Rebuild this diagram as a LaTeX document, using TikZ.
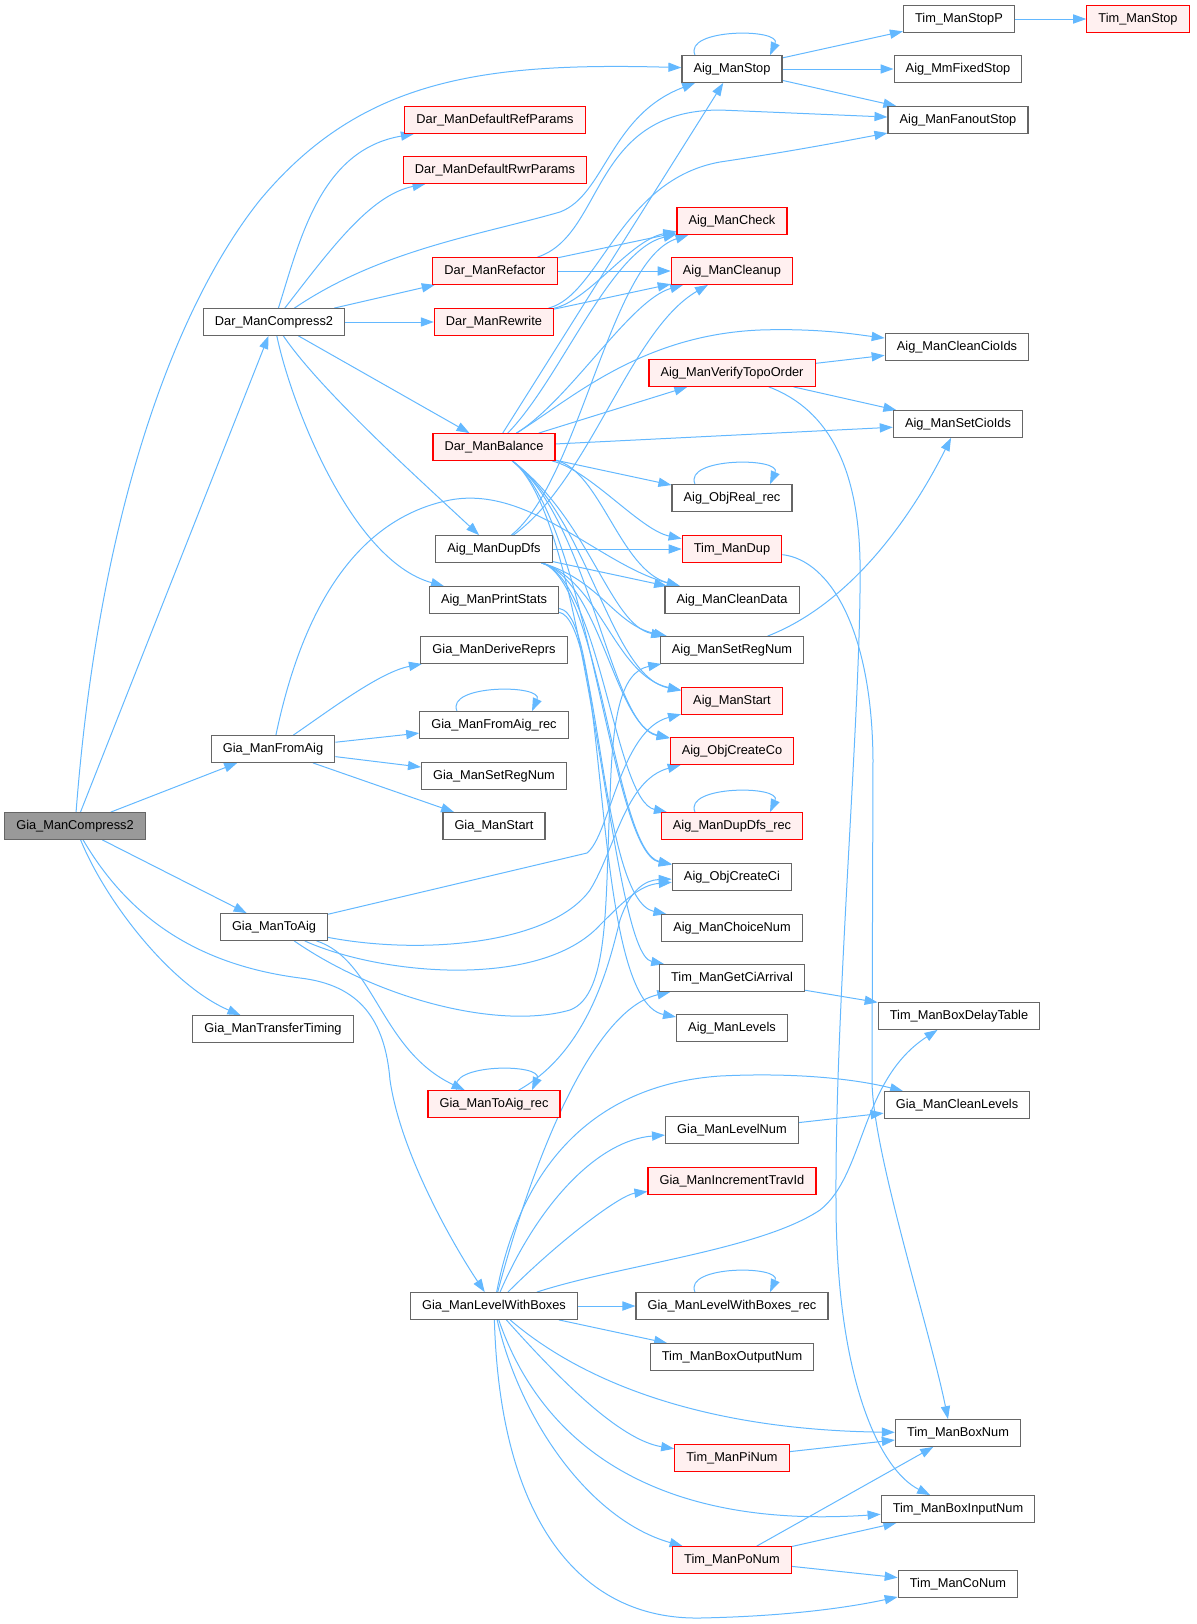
\documentclass[tikz,border=0pt]{standalone}
\usepackage{fontspec}
\setmainfont{Liberation Sans}
\usetikzlibrary{arrows.meta}
\pgfdeclarelayer{edges}
\pgfsetlayers{edges,main}
\definecolor{callblue}{HTML}{63B8FF}
\definecolor{boxgray}{HTML}{666666}
\definecolor{rootgray}{HTML}{999999}
\definecolor{redfill}{HTML}{FFF0F0}
\tikzset{
  fn/.style={draw=boxgray, fill=white, line width=0.6pt, inner xsep=5.8pt, inner ysep=1pt,
    minimum height=13.3pt, font=\fontsize{6.4}{7.6}\selectfont},
  fnred/.style={fn, draw=red, fill=redfill},
  fnroot/.style={fn, fill=rootgray},
  call/.style={draw=callblue, line width=0.5pt, -{Triangle[length=6.5pt,width=4.6pt]}},
  selfcall/.style={call, to path={([xshift=-18.5pt]\tikztostart.north) .. controls +(-12,-27) and +(12,-27) .. ([xshift=19pt]\tikztostart.north)}}
}
\begin{document}
\begin{tikzpicture}[x=0.5pt,y=-0.5pt]
\useasboundingbox (0,0) rectangle (1196,1624);
\node[fnroot] (gcomp) at (75,826) {Gia\_ManCompress2};
\node[fn] (dcomp) at (274,322) {Dar\_ManCompress2};
\node[fn] (gfrom) at (273,749) {Gia\_ManFromAig};
\node[fn] (gtoaig) at (274,927) {Gia\_ManToAig};
\node[fn] (gtransfer) at (273,1029) {Gia\_ManTransferTiming};
\node[fn] (lwb) at (494,1306) {Gia\_ManLevelWithBoxes};
\node[fnred] (refparams) at (495,120) {Dar\_ManDefaultRefParams};
\node[fnred] (rwrparams) at (495,170) {Dar\_ManDefaultRwrParams};
\node[fnred] (refac) at (495,271) {Dar\_ManRefactor};
\node[fnred] (rewr) at (494,322) {Dar\_ManRewrite};
\node[fnred] (bal) at (494,447) {Dar\_ManBalance};
\node[fn] (dupdfs) at (494,549) {Aig\_ManDupDfs};
\node[fn] (pstats) at (494,600) {Aig\_ManPrintStats};
\node[fn] (derive) at (494,650) {Gia\_ManDeriveReprs};
\node[fn] (gfromrec) at (494,725) {Gia\_ManFromAig\_rec};
\node[fn] (gsetreg) at (494,776) {Gia\_ManSetRegNum};
\node[fn] (gstart) at (494,826) {Gia\_ManStart};
\node[fnred] (gtoaigrec) at (494,1104) {Gia\_ManToAig\_rec};
\node[fn] (astop) at (732,69) {Aig\_ManStop};
\node[fnred] (check) at (732,221) {Aig\_ManCheck};
\node[fnred] (cleanup) at (732,271) {Aig\_ManCleanup};
\node[fnred] (verify) at (732,373) {Aig\_ManVerifyTopoOrder};
\node[fn] (objreal) at (732,498) {Aig\_ObjReal\_rec};
\node[fnred] (timdup) at (732,549) {Tim\_ManDup};
\node[fn] (cleandata) at (732,600) {Aig\_ManCleanData};
\node[fn] (setreg) at (732,650) {Aig\_ManSetRegNum};
\node[fnred] (astart) at (732,701) {Aig\_ManStart};
\node[fnred] (createco) at (732,751) {Aig\_ObjCreateCo};
\node[fnred] (duprec) at (732,826) {Aig\_ManDupDfs\_rec};
\node[fn] (createci) at (732,877) {Aig\_ObjCreateCi};
\node[fn] (choice) at (732,928) {Aig\_ManChoiceNum};
\node[fn] (getci) at (732,978) {Tim\_ManGetCiArrival};
\node[fn] (levels) at (732,1028) {Aig\_ManLevels};
\node[fn] (levnum) at (732,1130) {Gia\_ManLevelNum};
\node[fnred] (incrtrav) at (732,1181) {Gia\_ManIncrementTravId};
\node[fn] (lwbrec) at (732,1306) {Gia\_ManLevelWithBoxes\_rec};
\node[fn] (boxout) at (732,1357) {Tim\_ManBoxOutputNum};
\node[fnred] (pinum) at (732,1458) {Tim\_ManPiNum};
\node[fnred] (ponum) at (732,1560) {Tim\_ManPoNum};
\node[fn] (stopp) at (959,19) {Tim\_ManStopP};
\node[fn] (mmfixed) at (958,69) {Aig\_MmFixedStop};
\node[fn] (fanout) at (958,120) {Aig\_ManFanoutStop};
\node[fn] (cleancio) at (957,347) {Aig\_ManCleanCioIds};
\node[fn] (setcio) at (958,424) {Aig\_ManSetCioIds};
\node[fn] (boxdelay) at (959,1016) {Tim\_ManBoxDelayTable};
\node[fn] (cleanlev) at (957,1105) {Gia\_ManCleanLevels};
\node[fn] (boxnum) at (958,1433) {Tim\_ManBoxNum};
\node[fn] (boxinput) at (958,1509) {Tim\_ManBoxInputNum};
\node[fn] (conum) at (958,1584) {Tim\_ManCoNum};
\node[fnred] (timstop) at (1138,19) {Tim\_ManStop};
\begin{pgfonlayer}{edges}
\draw[call] (gcomp) .. controls (100,500) and (180,300) .. (260,200) .. controls (360,80) and (480,62) .. (astop);
\draw[call] (gcomp) -- (dcomp);
\draw[call] (gcomp) -- (gfrom);
\draw[call] (gcomp) -- (gtoaig);
\draw[call] (gcomp) .. controls (105,900) and (170,985) .. (gtransfer);
\draw[call] (gcomp) .. controls (130,920) and (200,965) .. (300,978) .. controls (360,985) and (385,1020) .. (390,1080) .. controls (400,1150) and (450,1240) .. (lwb);
\draw[call] (dcomp) .. controls (300,240) and (320,150) .. (refparams);
\draw[call] (dcomp) .. controls (330,250) and (370,195) .. (rwrparams);
\draw[call] (dcomp) .. controls (380,250) and (480,235) .. (560,212) .. controls (605,195) and (610,115) .. (astop);
\draw[call] (dcomp) -- (refac);
\draw[call] (dcomp) -- (rewr);
\draw[call] (dcomp) -- (bal);
\draw[call] (dcomp) .. controls (320,390) and (420,480) .. (dupdfs);
\draw[call] (dcomp) .. controls (290,400) and (350,560) .. (pstats);
\draw[selfcall] (astop) to (astop);
\draw[call] (astop) -- (stopp);
\draw[call] (astop) -- (mmfixed);
\draw[call] (astop) -- (fanout);
\draw[call] (stopp) -- (timstop);
\draw[call] (refac) .. controls (605,235) and (590,110) .. (720,110) -- (fanout);
\draw[call] (refac) -- (check);
\draw[call] (refac) -- (cleanup);
\draw[call] (rewr) .. controls (600,295) and (620,180) .. (720,162) .. controls (800,150) and (850,140) .. (fanout);
\draw[call] (rewr) .. controls (590,300) and (630,240) .. (check);
\draw[call] (rewr) -- (cleanup);
\draw[call] (bal) -- (astop);
\draw[call] (bal) .. controls (560,380) and (610,250) .. (check);
\draw[call] (bal) .. controls (570,400) and (630,300) .. (cleanup);
\draw[call] (bal) .. controls (570,400) and (640,335) .. (760,330) .. controls (820,328) and (860,335) .. (cleancio);
\draw[call] (bal) -- (verify);
\draw[call] (bal) -- (setcio);
\draw[call] (bal) -- (objreal);
\draw[call] (bal) .. controls (590,470) and (640,530) .. (timdup);
\draw[call] (bal) .. controls (600,470) and (620,570) .. (cleandata);
\draw[call] (bal) .. controls (590,520) and (610,625) .. (setreg);
\draw[call] (bal) .. controls (590,520) and (610,676) .. (astart);
\draw[call] (bal) .. controls (590,520) and (610,726) .. (createco);
\draw[call] (bal) .. controls (590,520) and (610,852) .. (createci);
\draw[call] (bal) .. controls (590,520) and (610,953) .. (getci);
\draw[call] (dupdfs) .. controls (580,480) and (610,260) .. (check);
\draw[call] (dupdfs) .. controls (590,480) and (630,330) .. (cleanup);
\draw[call] (dupdfs) -- (timdup);
\draw[call] (dupdfs) -- (cleandata);
\draw[call] (dupdfs) .. controls (600,580) and (615,625) .. (setreg);
\draw[call] (dupdfs) .. controls (600,580) and (615,676) .. (astart);
\draw[call] (dupdfs) .. controls (600,580) and (615,726) .. (createco);
\draw[call] (dupdfs) .. controls (600,580) and (615,801) .. (duprec);
\draw[call] (dupdfs) .. controls (600,580) and (615,852) .. (createci);
\draw[call] (pstats) .. controls (600,620) and (600,900) .. (choice);
\draw[call] (pstats) .. controls (610,615) and (590,1000) .. (levels);
\draw[call] (verify) -- (cleancio);
\draw[call] (verify) -- (setcio);
\draw[call] (verify) .. controls (830,410) and (858,470) .. (860,560) .. controls (862,700) and (835,1000) .. (836,1200) .. controls (836,1380) and (880,1470) .. (boxinput);
\draw[selfcall] (objreal) to (objreal);
\draw[call] (timdup) .. controls (830,560) and (872,630) .. (873,760) -- (872,1080) .. controls (872,1150) and (930,1330) .. ([xshift=-5pt]boxnum.north);
\draw[call] (setreg) .. controls (860,600) and (920,500) .. (setcio);
\draw[selfcall] (duprec) to (duprec);
\draw[call] (getci) -- (boxdelay);
\draw[call] (gfrom) .. controls (300,620) and (350,520) .. (450,500) .. controls (530,485) and (600,565) .. (cleandata);
\draw[call] (gfrom) .. controls (330,710) and (380,672) .. (derive);
\draw[call] (gfrom) -- (gfromrec);
\draw[call] (gfrom) -- (gsetreg);
\draw[call] (gfrom) -- (gstart);
\draw[selfcall] (gfromrec) to (gfromrec);
\draw[call] (gtoaig) -- (587,853) .. controls (610,835) and (620,730) .. (astart);
\draw[call] (gtoaig) .. controls (420,955) and (550,945) .. (590,890) .. controls (615,850) and (625,780) .. (createco);
\draw[call] (gtoaig) .. controls (380,975) and (540,990) .. (600,925) .. controls (625,900) and (640,885) .. (createci);
\draw[call] (gtoaig) .. controls (380,1000) and (500,1030) .. (570,1010) .. controls (610,995) and (605,900) .. (610,800) .. controls (612,720) and (620,672) .. (setreg);
\draw[call] (gtoaig) .. controls (375,960) and (380,1050) .. (gtoaigrec);
\draw[selfcall] (gtoaigrec) to (gtoaigrec);
\draw[call] (gtoaigrec) .. controls (590,1050) and (610,960) .. (620,920) .. controls (630,890) and (645,880) .. (createci);
\draw[call] (lwb) .. controls (520,1170) and (590,1085) .. (720,1076) .. controls (800,1072) and (860,1080) .. (cleanlev);
\draw[call] (lwb) .. controls (530,1170) and (590,1010) .. (getci);
\draw[call] (lwb) .. controls (540,1200) and (600,1140) .. (levnum);
\draw[call] (lwb) .. controls (560,1240) and (620,1195) .. (incrtrav);
\draw[call] (lwb) .. controls (620,1265) and (760,1250) .. (820,1210) .. controls (865,1175) and (860,1080) .. (boxdelay);
\draw[call] (lwb) -- (lwbrec);
\draw[call] (lwb) -- (boxout);
\draw[call] (lwb) .. controls (580,1380) and (700,1430) .. (boxnum);
\draw[call] (lwb) .. controls (560,1380) and (620,1440) .. (pinum);
\draw[call] (lwb) .. controls (540,1440) and (650,1530) .. (boxinput);
\draw[call] (lwb) .. controls (520,1420) and (590,1520) .. (ponum);
\draw[call] (lwb) .. controls (500,1520) and (580,1620) .. (700,1618) .. controls (800,1616) and (860,1605) .. (conum);
\draw[selfcall] (lwbrec) to (lwbrec);
\draw[call] (levnum) -- (cleanlev);
\draw[call] (pinum) -- (boxnum);
\draw[call] (ponum) -- (boxnum);
\draw[call] (ponum) -- (boxinput);
\draw[call] (ponum) -- (conum);
\end{pgfonlayer}
\end{tikzpicture}
\end{document}
